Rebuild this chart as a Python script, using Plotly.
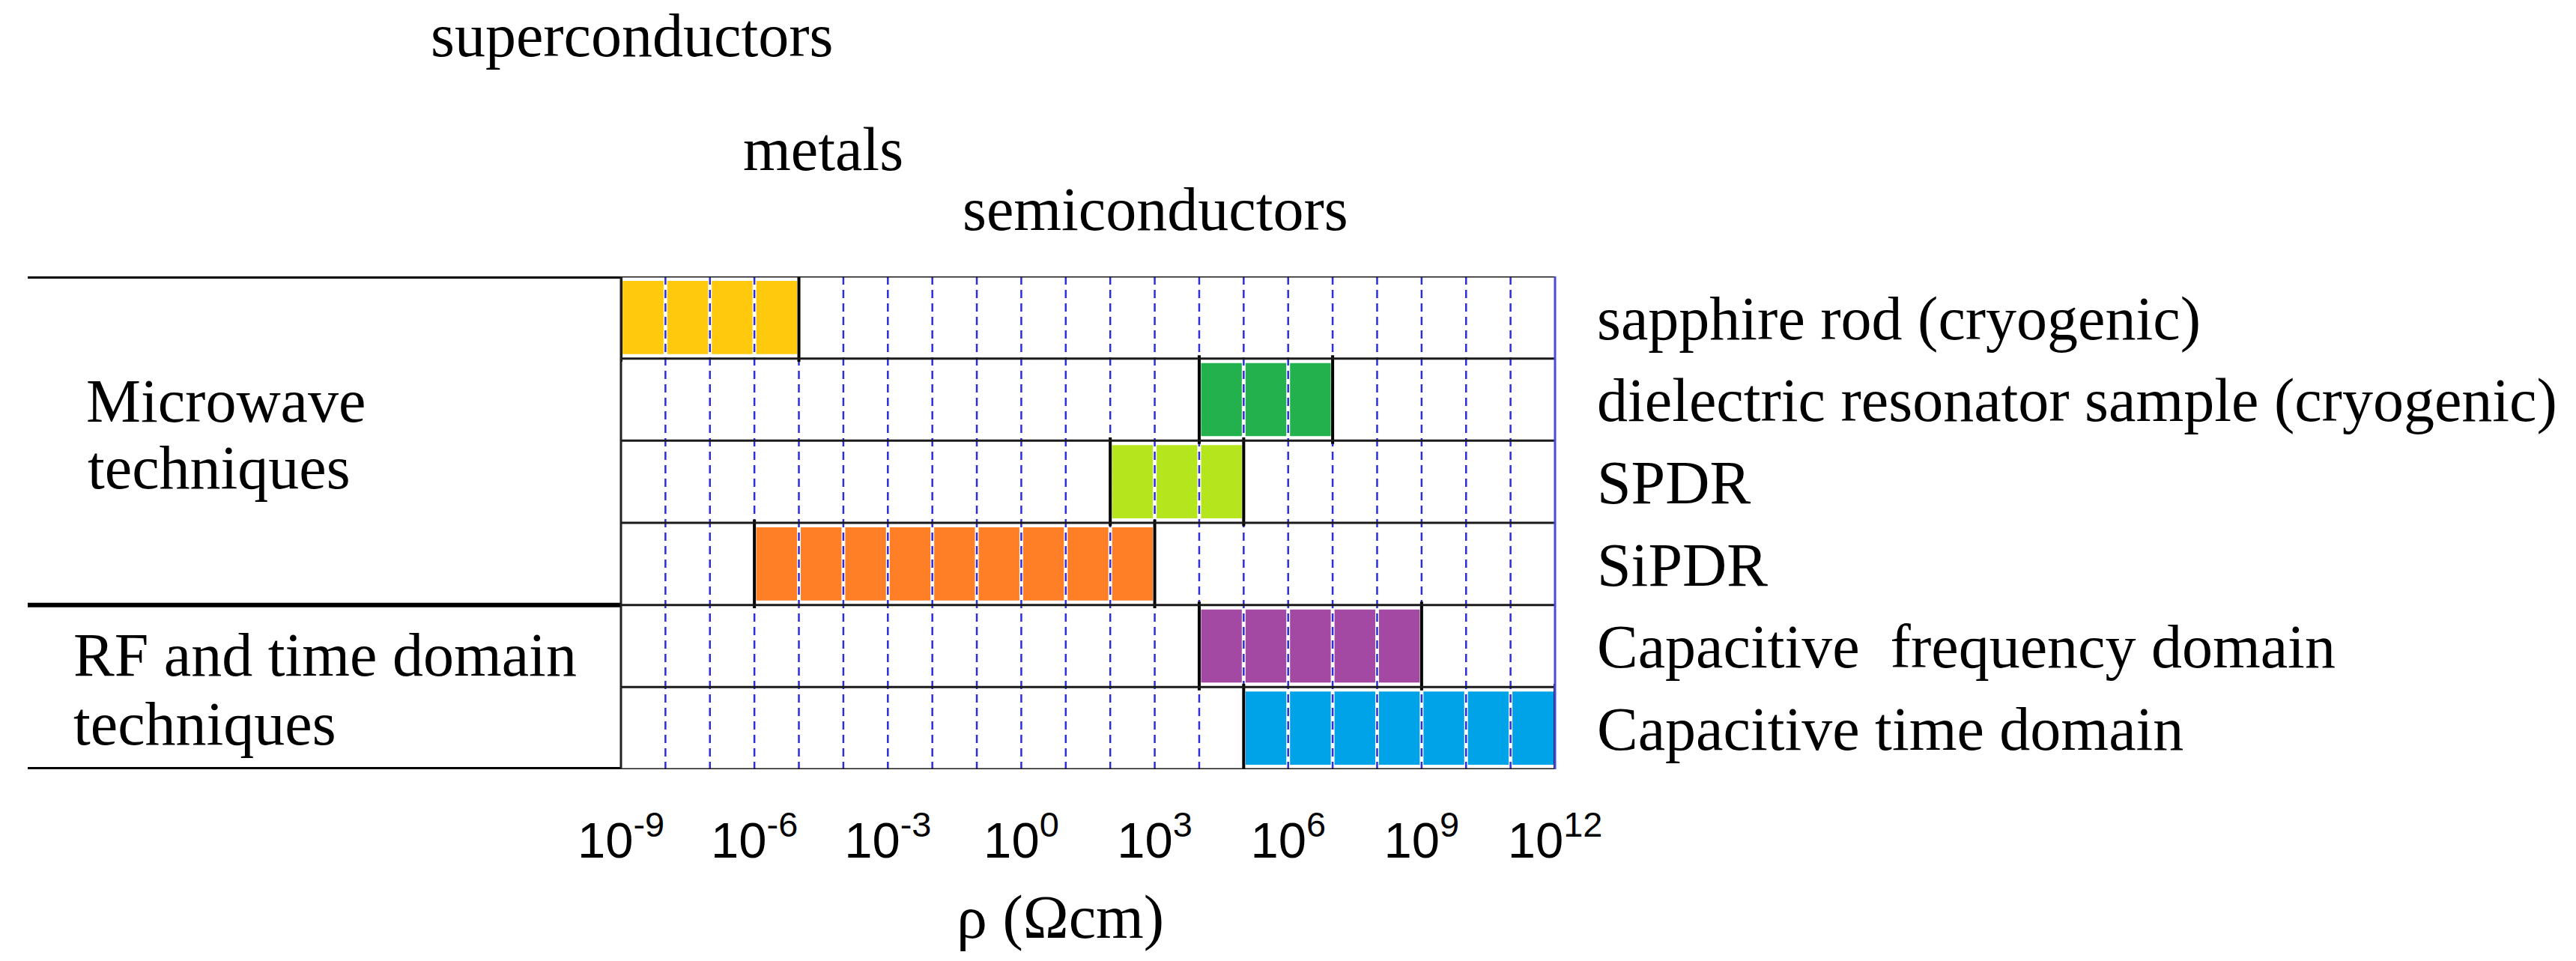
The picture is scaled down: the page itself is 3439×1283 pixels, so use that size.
import plotly.graph_objects as go

# ---------------- data ----------------
techniques = [
    "sapphire rod (cryogenic)",
    "dielectric resonator sample (cryogenic)",
    "SPDR",
    "SiPDR",
    "Capacitive\u00a0 frequency domain",
    "Capacitive time domain",
]
rho_min = [1e-9, 1e4, 1e2, 1e-6, 1e4, 1e5]
rho_max = [1e-5, 1e7, 1e5, 1e3, 1e9, 1e12]
bar_colors = ["#FFC90E", "#22B14C", "#B5E61D", "#FF7F27", "#A349A4", "#00A2E8"]

group_line1 = ["Microwave", "RF and time domain"]
group_line2 = ["techniques", "techniques"]
group_rows = [4, 2]

material_classes = ["superconductors", "metals", "semiconductors"]

tick_exponents = [-9, -6, -3, 0, 3, 6, 9, 12]
grid_exponents = list(range(-8, 12))
x_title = "ρ (Ωcm)"

# ---------------- layout geometry (pixels) ----------------
W, H = 3439, 1283
L, R, T, B = 829, 2076, 369, 1027
pw, ph = R - L, B - T


def px(p):
    return (p - L) / pw


def py(p):
    return (B - p) / ph


SERIF = "Liberation Serif, Times New Roman, serif"
SANS_N = "Liberation Sans Narrow, Arial Narrow, Liberation Sans, Arial, sans-serif"
n = len(techniques)
rows = list(range(n))

fig = go.Figure()

# coloured ranges
fig.add_trace(go.Bar(
    y=rows,
    x=[hi - lo for lo, hi in zip(rho_min, rho_max)],
    base=rho_min,
    orientation="h",
    width=0.89,
    marker=dict(color=bar_colors, line=dict(width=0)),
    hoverinfo="skip",
    showlegend=False,
))

# decade grid (white under-stroke + blue dashes), drawn above the bars
gx, gy = [], []
for e in grid_exponents:
    gx += [10.0 ** e, 10.0 ** e, None]
    gy += [-0.5, n - 0.5, None]
fig.add_trace(go.Scatter(x=gx, y=gy, mode="lines",
                         line=dict(color="white", width=5),
                         hoverinfo="skip", showlegend=False))
fig.add_trace(go.Scatter(x=gx, y=gy, mode="lines",
                         line=dict(color="#2E2EDB", width=2.5, dash="11px,7px"),
                         hoverinfo="skip", showlegend=False))

# black edges of each range
ex, ey = [], []
for i, (lo, hi) in enumerate(zip(rho_min, rho_max)):
    for v in (lo, hi):
        ex += [v, v, None]
        ey += [i - 0.54, i + 0.54, None]
fig.add_trace(go.Scatter(x=ex, y=ey, mode="lines",
                         line=dict(color="black", width=4),
                         hoverinfo="skip", showlegend=False))

shapes = []
# row separators inside plot
for k in range(n + 1):
    shapes.append(dict(type="line", xref="x domain", yref="y",
                       x0=0, x1=1, y0=k - 0.5, y1=k - 0.5,
                       line=dict(color="#1a1a1a", width=3), layer="above"))
# group separators extending to the left
bounds = [0]
for g in group_rows:
    bounds.append(bounds[-1] + g)
for b in bounds:
    shapes.append(dict(type="line", xref="paper", yref="y",
                       x0=px(37), x1=0, y0=b - 0.5, y1=b - 0.5,
                       line=dict(color="black", width=6), layer="above"))
# left and right borders
shapes.append(dict(type="line", xref="x domain", yref="y domain",
                   x0=0, x1=0, y0=0, y1=1,
                   line=dict(color="#222222", width=3), layer="above"))
shapes.append(dict(type="line", xref="x domain", yref="y domain",
                   x0=1, x1=1, y0=0, y1=1,
                   line=dict(color="#4B4BD6", width=3), layer="above"))

annotations = []
# material class labels
mat_pos = [(573, 47), (990, 199), (1283, 279)]
for txt, (ax_, ay_) in zip(material_classes, mat_pos):
    annotations.append(dict(text=txt, xref="paper", yref="paper",
                            x=px(ax_), y=py(ay_), xanchor="left", yanchor="middle",
                            showarrow=False, font=dict(family=SERIF, size=82, color="black")))
# group labels
grp_pos = [((113, 535), (115, 624)), ((96, 874), (96, 966))]
for l1, l2, (p1, p2) in zip(group_line1, group_line2, grp_pos):
    for txt, (ax_, ay_) in ((l1, p1), (l2, p2)):
        annotations.append(dict(text=txt, xref="paper", yref="paper",
                                x=px(ax_), y=py(ay_), xanchor="left", yanchor="middle",
                                showarrow=False, font=dict(family=SERIF, size=82, color="black")))
# axis title
annotations.append(dict(text=x_title, xref="paper", yref="paper",
                        x=px(1415), y=py(1224), xanchor="center", yanchor="middle",
                        showarrow=False, font=dict(family=SERIF, size=82, color="black")))

fig.update_layout(
    width=W, height=H,
    margin=dict(l=L, r=W - R, t=T, b=H - B, pad=0),
    paper_bgcolor="white", plot_bgcolor="white",
    showlegend=False,
    shapes=shapes,
    annotations=annotations,
    xaxis=dict(
        type="log",
        range=[tick_exponents[0], tick_exponents[-1]],
        showgrid=False, zeroline=False, showline=False, ticks="",
        tickvals=[10.0 ** e for e in tick_exponents],
        ticktext=["10<sup>%d</sup>" % e for e in tick_exponents],
        tickfont=dict(family=SANS_N, size=67, color="black"),
        ticklabelstandoff=50,
        fixedrange=True,
    ),
    yaxis=dict(
        range=[n - 0.5, -0.5],
        showgrid=False, zeroline=False, showline=False, ticks="",
        side="right",
        tickvals=rows,
        ticktext=techniques,
        tickfont=dict(family=SERIF, size=82, color="black"),
        ticklabelstandoff=55,
        fixedrange=True,
    ),
)

fig.write_html("out.html", config={"displayModeBar": False},
               post_script="document.body.style.margin='0px';")
